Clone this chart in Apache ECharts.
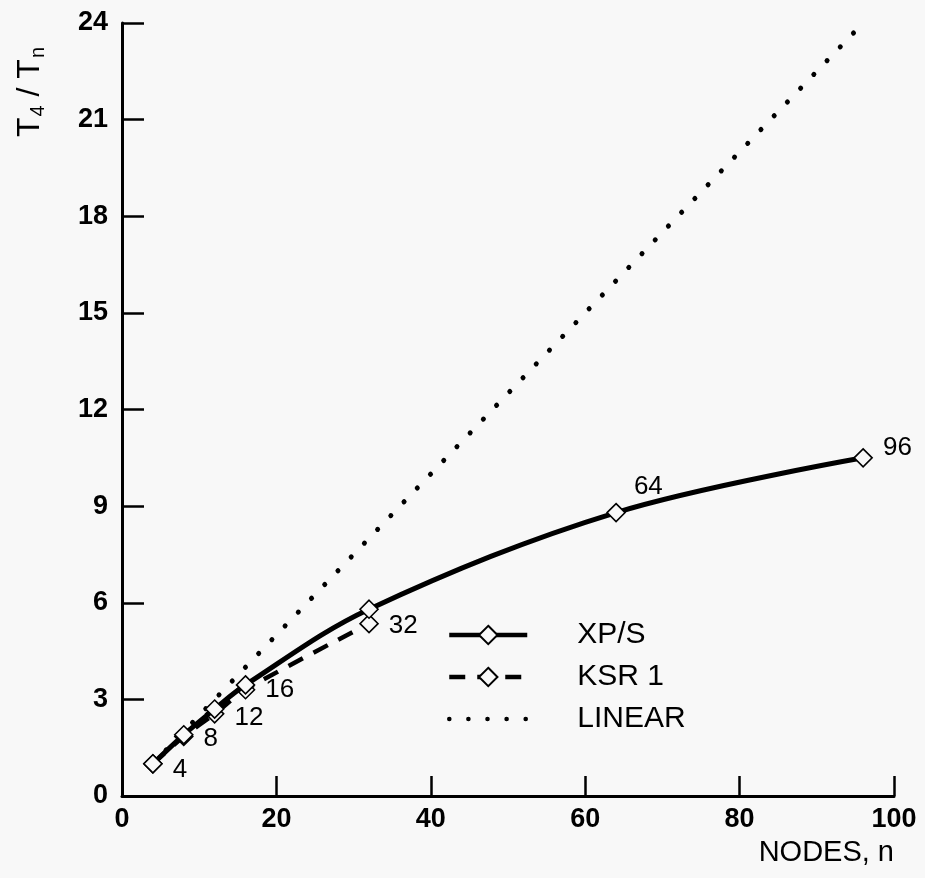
<!DOCTYPE html>
<html>
<head>
<meta charset="utf-8">
<script src="https://cdn.jsdelivr.net/npm/echarts@6/dist/echarts.min.js"></script>
<style>
html,body{margin:0;padding:0;background:#f8f8f8;}
#c{width:925px;height:878px;}
</style>
</head>
<body>
<div id="c"></div>
<script>
// ---- data ----
const xpsNodes = [4, 8, 12, 16, 32, 64, 96];
const xpsValues = [1.0, 1.9, 2.7, 3.45, 5.8, 8.8, 10.5];
const ksrNodes = [4, 8, 12, 16, 32];
const ksrValues = [1.0, 1.85, 2.55, 3.3, 5.35];
const linearNodes = [4, 96];
const linearValues = [1, 24];
const xMin = 0, xMax = 100, xStep = 20;
const yMin = 0, yMax = 24, yStep = 3;
const seriesNames = ['XP/S', 'KSR 1', 'LINEAR'];
const xTitle = 'NODES, n';

const FONT = '"Liberation Sans", Arial, Helvetica, sans-serif';
const BG = '#f8f8f8';

// label placement per point (style only)
const xpsLabelOffsets = {4: [2, 6], 8: [2, 4], 64: [0, -26], 96: [2, -10]};
const ksrLabelOffsets = {12: [2, 4], 16: [2, 0], 32: [2, 2]};

function buildData(xs, ys, offsets) {
  return xs.map((x, i) => {
    const item = {value: [x, ys[i]]};
    if (offsets && offsets[x]) {
      item.label = {show: true, position: 'right', offset: offsets[x], formatter: String(x)};
    }
    return item;
  });
}

const markerStyle = {color: BG, borderColor: '#000', borderWidth: 1.6};
const labelStyle = {fontFamily: FONT, fontSize: 26, color: '#000', distance: 8};

const chart = echarts.init(document.getElementById('c'), null, {renderer: 'canvas'});
chart.setOption({
  backgroundColor: BG,
  animation: false,
  grid: {left: 122, right: 31, top: 23, bottom: 82, containLabel: false},
  legend: {
    left: 442, top: 615, orient: 'vertical',
    itemWidth: 78, itemHeight: 23, itemGap: 12,
    data: seriesNames,
    lineStyle: {width: 4.5},
    textStyle: {fontFamily: FONT, fontSize: 30, color: '#000', padding: [0, 0, 0, 45], lineHeight: 30}
  },
  xAxis: {
    type: 'value', min: xMin, max: xMax, interval: xStep,
    name: xTitle, nameLocation: 'end', nameGap: 0,
    nameTextStyle: {fontFamily: FONT, fontSize: 29, color: '#000', align: 'right', verticalAlign: 'top', padding: [42, 0, 0, 0]},
    axisLine: {lineStyle: {color: '#000', width: 3}},
    axisTick: {inside: true, length: 20, lineStyle: {color: '#000', width: 2.5}},
    axisLabel: {fontFamily: FONT, fontSize: 27, fontWeight: 'bold', color: '#000', margin: 10},
    splitLine: {show: false}
  },
  yAxis: {
    type: 'value', min: yMin, max: yMax, interval: yStep,
    axisLine: {show: true, lineStyle: {color: '#000', width: 3}},
    axisTick: {show: true, inside: true, length: 22, lineStyle: {color: '#000', width: 2.5}},
    axisLabel: {fontFamily: FONT, fontSize: 27, fontWeight: 'bold', color: '#000', margin: 14},
    splitLine: {show: false}
  },
  graphic: [{
    type: 'text', x: 30, y: 92, rotation: Math.PI / 2,
    style: {
      text: 'T{s|4} / T{s|n}',
      fontFamily: FONT, fontSize: 32, fill: '#000',
      align: 'center', verticalAlign: 'middle',
      rich: {s: {fontFamily: FONT, fontSize: 20, fill: '#000', padding: [16, 0, 0, 1]}}
    }
  }],
  series: [
    {
      name: seriesNames[0], type: 'line', smooth: 0.35,
      data: buildData(xpsNodes, xpsValues, xpsLabelOffsets),
      symbol: 'diamond', symbolSize: 18, z: 4,
      lineStyle: {color: '#000', width: 5},
      itemStyle: markerStyle,
      label: labelStyle
    },
    {
      name: seriesNames[1], type: 'line', smooth: 0.3,
      data: buildData(ksrNodes, ksrValues, ksrLabelOffsets),
      symbol: 'diamond', symbolSize: 18, z: 3,
      lineStyle: {color: '#000', width: 4.5, type: [16, 12]},
      itemStyle: markerStyle,
      label: labelStyle
    },
    {
      name: seriesNames[2], type: 'line',
      data: buildData(linearNodes, linearValues, null),
      symbol: 'circle', symbolSize: 0, showSymbol: false, z: 2,
      lineStyle: {color: '#000', width: 5, type: [0.1, 19], cap: 'round'},
      itemStyle: {color: 'rgba(0,0,0,0)', borderWidth: 0}
    }
  ]
});
</script>
</body>
</html>
